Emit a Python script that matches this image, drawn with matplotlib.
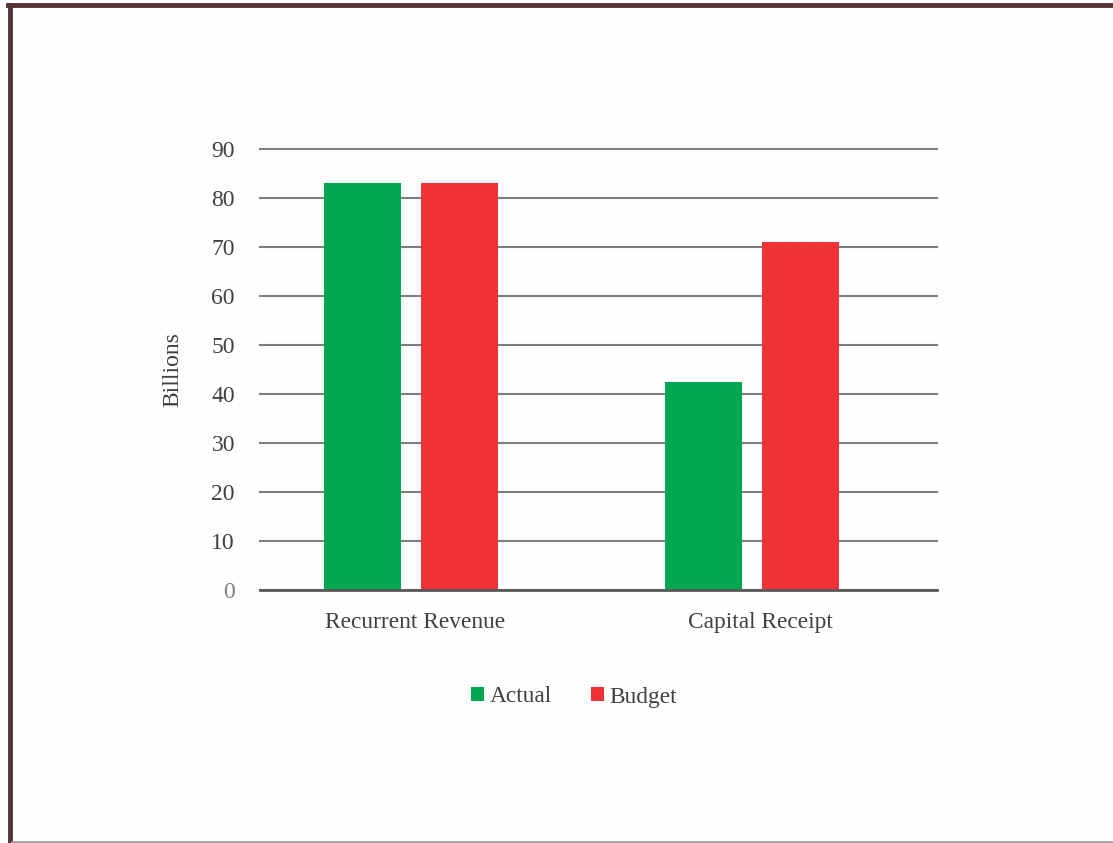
import numpy as np
import matplotlib.pyplot as plt
from matplotlib.lines import Line2D

# ===== data =====
categories = ['Recurrent Revenue', 'Capital Receipt']
actual = [83.0, 42.4]
budget = [83.0, 71.0]
series_names = ['Actual', 'Budget']
y_ticks = [0, 10, 20, 30, 40, 50, 60, 70, 80, 90]

# ===== style =====
plt.rcParams['font.family'] = ['Liberation Serif', 'DejaVu Serif']
GREEN = '#00A651'
RED = '#EE3237'
TXT = '#404040'

W, H = 1113, 843
fig = plt.figure(figsize=(W / 100, H / 100), dpi=100)
fig.patch.set_facecolor('#FEFEFE')

# frame: dark left/top edge, light grey bottom edge
fig.add_artist(Line2D([10 / W, 10 / W], [0, 1 - 5 / H], color='#553333', linewidth=3.5))
fig.add_artist(Line2D([8 / W, 1], [1 - 5 / H, 1 - 5 / H], color='#553333', linewidth=3.5))
fig.add_artist(Line2D([12 / W, 1], [1.2 / H, 1.2 / H], color='#A8A0A0', linewidth=2))

ax = fig.add_axes([260 / W, 1 - 590 / H, (937 - 260) / W, (590 - 149) / H])
ax.set_facecolor('none')

x = np.arange(len(categories))
bw = 0.226
off = 0.142
ax.bar(x - off, actual, bw, color=GREEN, label=series_names[0], zorder=3)
ax.bar(x + off, budget, bw, color=RED, label=series_names[1], zorder=3)

ax.set_xlim(-0.443, 1.543)
ax.set_ylim(0, 90)
ax.set_yticks(y_ticks)
ax.yaxis.grid(True, color='#7F7F7F', linewidth=1.5, zorder=0)
for gl in ax.get_ygridlines():
    gl.set_clip_on(False)
ax.set_axisbelow(True)

for s in ['top', 'right', 'left']:
    ax.spines[s].set_visible(False)
ax.spines['bottom'].set_color('#595959')
ax.spines['bottom'].set_linewidth(2)
ax.spines['bottom'].set_zorder(4)

ax.tick_params(axis='both', length=0, labelcolor=TXT)
ax.tick_params(axis='y', pad=18, labelsize=17)
ax.tick_params(axis='x', pad=16)
# category labels sit a touch right of the bar groups in the original
ax.set_xticks(x + np.array([0.012, 0.026]))
ax.set_xticklabels(categories, fontsize=16.8)
for lbl in ax.get_yticklabels():
    if lbl.get_text() == '0':
        lbl.set_color('#808080')

ax.set_ylabel('Billions', fontsize=17, color=TXT, labelpad=20)

leg = fig.legend(loc='center', bbox_to_anchor=(574 / W, 1 - 697 / H), ncol=2,
                 frameon=False, fontsize=16.8, handlelength=0.56, handleheight=0.56,
                 handletextpad=0.25, columnspacing=1.65)
for t in leg.get_texts():
    t.set_color(TXT)

fig.savefig('out.png', dpi=100, facecolor=fig.get_facecolor())
